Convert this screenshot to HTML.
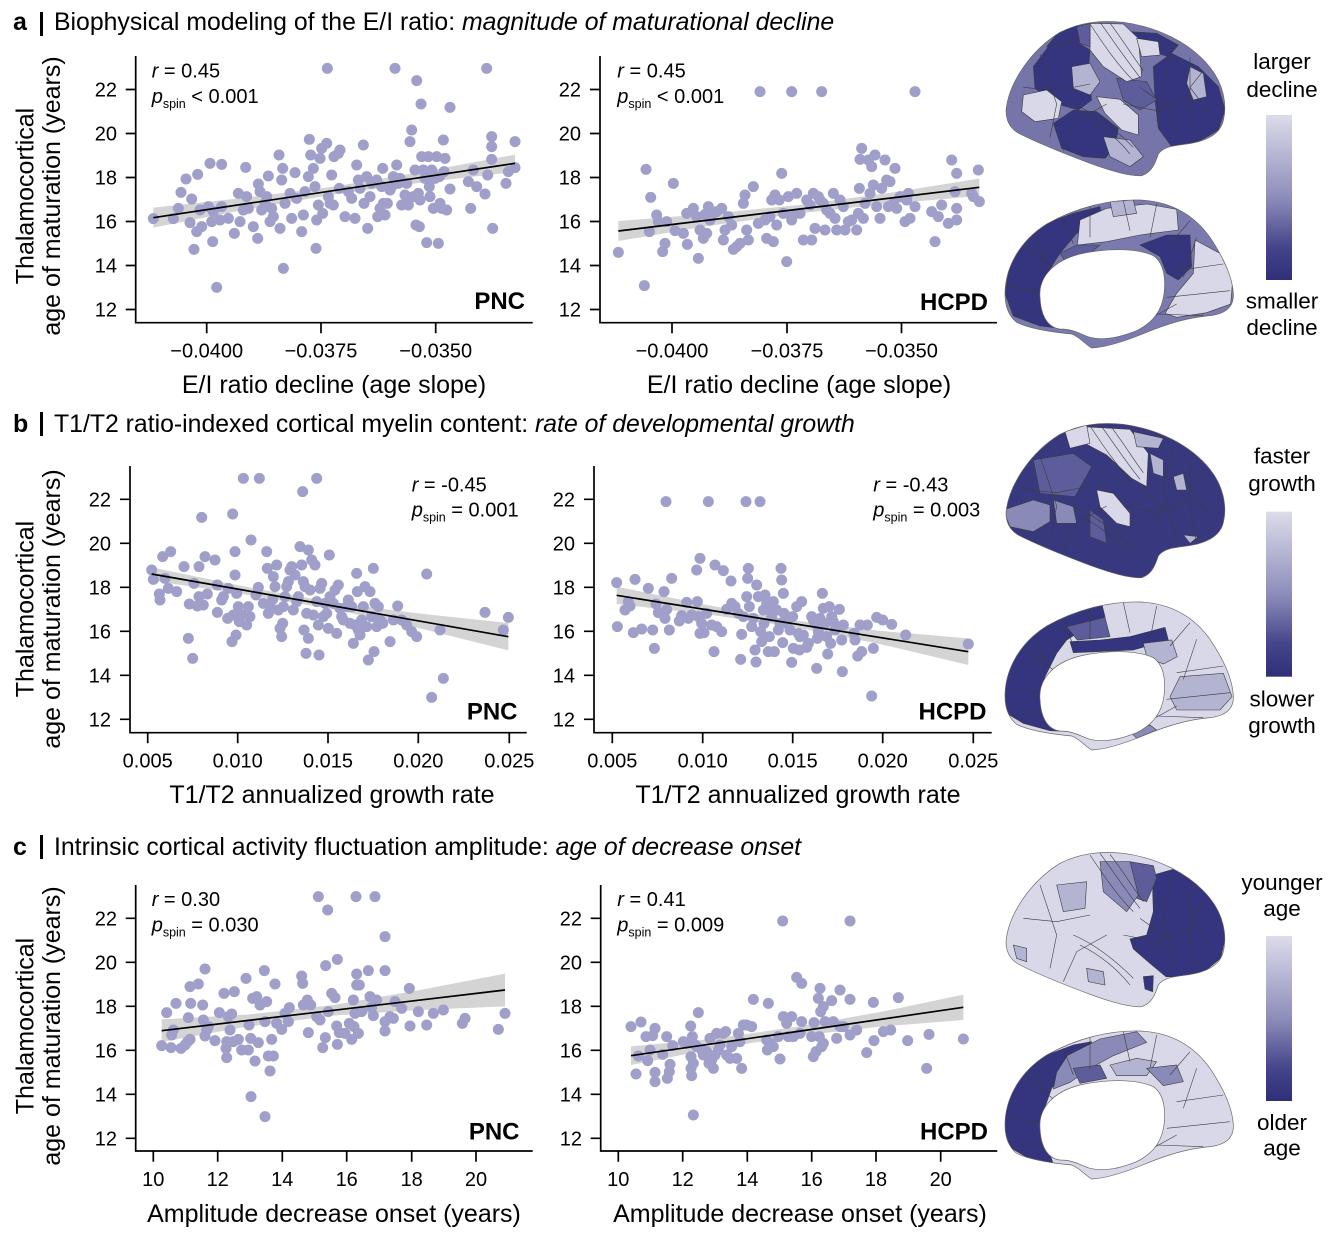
<!DOCTYPE html>
<html>
<head>
<meta charset="utf-8">
<style>
html,body{margin:0;padding:0;background:#fff;}
svg{display:block;}
text{font-family:"Liberation Sans",Arial,sans-serif;fill:#000;}
</style>
</head>
<body>
<svg width="1335" height="1250" viewBox="0 0 1335 1250" xmlns="http://www.w3.org/2000/svg">
<defs>
<linearGradient id="cb" x1="0" y1="0" x2="0" y2="1">
<stop offset="0" stop-color="#dcdcea"/>
<stop offset="0.5" stop-color="#8d8dbb"/>
<stop offset="0.8" stop-color="#45458a"/>
<stop offset="1" stop-color="#2f2f7a"/>
</linearGradient>
<path id="lat" d="M48,320 C55,240 120,140 210,85 C270,55 330,48 400,55 C500,68 600,115 660,190 C700,240 712,300 700,350 C690,390 650,412 590,420 C550,425 520,428 505,450 C495,480 485,505 455,515 C420,518 360,500 300,478 C220,448 140,415 90,390 C60,375 48,350 48,320 Z"/>
<path id="med" d="M45,870 C45,790 90,710 170,660 C260,610 360,585 450,588 C540,592 610,630 660,700 C700,760 728,820 730,870 C732,910 705,932 650,936 C590,942 530,960 470,985 C410,1010 350,1030 305,1032 C285,1020 270,1000 245,990 C190,985 120,975 80,955 C55,935 45,905 45,870 Z M150,880 C145,820 190,770 270,750 C350,732 440,732 490,755 C520,775 528,820 522,870 C515,920 490,955 440,980 C390,1000 340,1010 300,1000 C270,990 250,975 210,975 C170,970 152,930 150,880 Z"/>
<clipPath id="clat"><path d="M48,320 C55,240 120,140 210,85 C270,55 330,48 400,55 C500,68 600,115 660,190 C700,240 712,300 700,350 C690,390 650,412 590,420 C550,425 520,428 505,450 C495,480 485,505 455,515 C420,518 360,500 300,478 C220,448 140,415 90,390 C60,375 48,350 48,320 Z"/></clipPath>
<clipPath id="cmed"><path clip-rule="evenodd" d="M45,870 C45,790 90,710 170,660 C260,610 360,585 450,588 C540,592 610,630 660,700 C700,760 728,820 730,870 C732,910 705,932 650,936 C590,942 530,960 470,985 C410,1010 350,1030 305,1032 C285,1020 270,1000 245,990 C190,985 120,975 80,955 C55,935 45,905 45,870 Z M150,880 C145,820 190,770 270,750 C350,732 440,732 490,755 C520,775 528,820 522,870 C515,920 490,955 440,980 C390,1000 340,1010 300,1000 C270,990 250,975 210,975 C170,970 152,930 150,880 Z"/></clipPath>
<g id="latlines" fill="none" stroke="#3c3c3c" stroke-width="1.8">
<path d="M300,60 C340,120 380,180 430,230 M330,55 C370,110 410,170 450,220 M360,58 C400,110 430,160 460,200 M250,300 C320,330 380,380 430,430 M270,330 C330,360 380,400 420,450 M100,250 L200,260 L300,240 M150,150 L200,300 L180,400 M550,120 L520,250 L560,400 M600,160 L600,300 L620,410 M400,300 L500,320 L600,280 M220,440 L260,350 L350,300 M450,250 L520,300 L500,350 M640,200 L600,250 L660,330"/>
</g>
<g id="medlines" fill="none" stroke="#3c3c3c" stroke-width="1.8">
<path d="M100,720 L200,800 M60,850 L150,860 M80,930 L160,920 M300,600 L300,700 M400,590 L420,680 M500,600 L480,700 M600,650 L540,720 M560,800 L700,780 M530,880 L720,860 M500,930 L640,935 M380,1000 L560,900 M130,690 L170,780 M220,640 L250,720 M620,700 L580,820"/>
</g>
</defs>

<!-- ================= TITLES ================= -->
<text x="13" y="30" font-size="25" font-weight="bold">a</text>
<rect x="40" y="12" width="3" height="24" fill="#000"/>
<text x="54" y="30" font-size="24.8">Biophysical modeling of the E/I ratio: <tspan font-style="italic">magnitude of maturational decline</tspan></text>

<text x="13" y="432" font-size="25" font-weight="bold">b</text>
<rect x="40" y="412" width="3" height="24" fill="#000"/>
<text x="54" y="432" font-size="24.8">T1/T2 ratio-indexed cortical myelin content: <tspan font-style="italic">rate of developmental growth</tspan></text>

<text x="13" y="855" font-size="25" font-weight="bold">c</text>
<rect x="40" y="835" width="3" height="24" fill="#000"/>
<text x="54" y="855" font-size="24.8">Intrinsic cortical activity fluctuation amplitude: <tspan font-style="italic">age of decrease onset</tspan></text>

<!-- ================= Y AXIS LABELS ================= -->
<g font-size="25" text-anchor="middle">
<text transform="translate(33.5,196) rotate(-90)">Thalamocortical</text>
<text transform="translate(60,196) rotate(-90)">age of maturation (years)</text>
<text transform="translate(33.5,609) rotate(-90)">Thalamocortical</text>
<text transform="translate(60,609) rotate(-90)">age of maturation (years)</text>
<text transform="translate(33.5,1026) rotate(-90)">Thalamocortical</text>
<text transform="translate(60,1026) rotate(-90)">age of maturation (years)</text>
</g>

<!-- ================= PANEL A LEFT ================= -->
<g transform="translate(100,40) scale(0.33333)">
<polygon fill="#d4d4d4" points="160,503 430,474 700,440 970,395 1245,344 1245,396 970,427 700,464 430,510 160,563"/>
<path fill="none" stroke="#9f9fc9" stroke-width="33" stroke-linecap="round" d="M160 536h.1M220 536h.1M235 505h.1M243 457h.1M258 417h.1M275 477h.1M293 403h.1M270 548h.1M290 575h.1M282 628h.1M305 560h.1M300 510h.1M325 500h.1M340 515h.1M330 370h.1M365 373h.1M338 605h.1M350 742h.1M335 545h.1M360 540h.1M385 535h.1M365 500h.1M403 580h.1M415 460h.1M420 545h.1M430 510h.1M440 470h.1M437 382h.1M445 505h.1M460 560h.1M473 595h.1M475 432h.1M480 455h.1M485 510h.1M495 490h.1M500 470h.1M505 408h.1M510 545h.1M520 530h.1M515 505h.1M537 345h.1M540 565h.1M545 420h.1M548 385h.1M555 490h.1M550 685h.1M570 460h.1M575 535h.1M585 398h.1M590 475h.1M605 575h.1M610 525h.1M615 455h.1M625 410h.1M628 298h.1M632 345h.1M640 385h.1M645 440h.1M648 625h.1M650 540h.1M655 495h.1M660 355h.1M665 325h.1M668 520h.1M680 310h.1M682 85h.1M685 470h.1M690 490h.1M695 405h.1M700 495h.1M702 350h.1M715 340h.1M720 330h.1M718 445h.1M735 530h.1M745 455h.1M755 475h.1M765 535h.1M770 375h.1M775 420h.1M780 445h.1M790 315h.1M792 490h.1M800 410h.1M803 565h.1M810 470h.1M815 430h.1M830 420h.1M833 530h.1M840 505h.1M848 385h.1M845 440h.1M850 490h.1M855 525h.1M862 490h.1M870 450h.1M875 440h.1M880 410h.1M885 85h.1M890 375h.1M895 430h.1M900 415h.1M905 495h.1M915 465h.1M920 430h.1M925 495h.1M930 305h.1M935 270h.1M940 470h.1M945 390h.1M948 555h.1M950 122h.1M955 460h.1M958 560h.1M960 480h.1M963 192h.1M965 350h.1M970 390h.1M975 415h.1M980 608h.1M985 350h.1M988 440h.1M990 470h.1M995 390h.1M1000 505h.1M1005 415h.1M1010 350h.1M1015 610h.1M1018 410h.1M1020 490h.1M1025 505h.1M1030 300h.1M1032 395h.1M1035 355h.1M1040 510h.1M1050 202h.1M1050 447h.1M1105 425h.1M1112 505h.1M1120 390h.1M1130 440h.1M1155 462h.1M1160 85h.1M1163 405h.1M1175 290h.1M1175 320h.1M1175 358h.1M1178 565h.1M1218 430h.1M1225 395h.1M1245 305h.1M1245 383h.1"/>
<line x1="160" y1="533" x2="1245" y2="370" stroke="#000" stroke-width="5"/>
</g>
<path d="M135.7 56V322.7H532.7" fill="none" stroke="#000" stroke-width="1.7"/>
<path d="M125.7 309.5H135.7M125.7 265.5H135.7M125.7 221.5H135.7M125.7 177.5H135.7M125.7 133.5H135.7M125.7 89.5H135.7M206.7 322.7V333.3M321 322.7V333.3M435.7 322.7V333.3" stroke="#000" stroke-width="1.7"/>
<g font-size="20" text-anchor="end">
<text x="117" y="316.5">12</text><text x="117" y="272.5">14</text><text x="117" y="228.5">16</text><text x="117" y="184.5">18</text><text x="117" y="140.5">20</text><text x="117" y="96.5">22</text>
</g>
<g font-size="20" text-anchor="middle">
<text x="206.7" y="357.5">−0.0400</text><text x="321" y="357.5">−0.0375</text><text x="435.7" y="357.5">−0.0350</text>
</g>
<text x="334" y="393" font-size="25" text-anchor="middle">E/I ratio decline (age slope)</text>
<text x="151.7" y="77.7" font-size="20"><tspan font-style="italic">r</tspan> = 0.45</text>
<text x="151.7" y="103" font-size="20"><tspan font-style="italic">p</tspan><tspan font-size="12.5" dy="5">spin</tspan><tspan dy="-5"> &lt; 0.001</tspan></text>
<text x="525" y="309" font-size="24" font-weight="bold" text-anchor="end">PNC</text>

<!-- ================= PANEL A RIGHT ================= -->
<g transform="translate(540,0) scale(0.33333)">
<polygon fill="#d4d4d4" points="235,663 505,642 776,615 1047,579 1318,536 1318,588 1047,611 776,640 505,678 235,723"/>
<path fill="none" stroke="#9f9fc9" stroke-width="33" stroke-linecap="round" d="M235 757h.1M313 857h.1M318 508h.1M328 695h.1M332 592h.1M350 645h.1M355 665h.1M368 755h.1M375 730h.1M380 665h.1M400 550h.1M405 692h.1M430 700h.1M440 640h.1M442 733h.1M460 625h.1M470 650h.1M475 775h.1M480 690h.1M490 715h.1M495 643h.1M500 700h.1M505 620h.1M510 660h.1M520 640h.1M530 635h.1M545 625h.1M550 720h.1M555 690h.1M565 650h.1M575 675h.1M580 748h.1M590 740h.1M600 730h.1M610 610h.1M615 585h.1M620 690h.1M625 720h.1M640 560h.1M655 670h.1M660 275h.1M675 660h.1M680 715h.1M690 650h.1M695 600h.1M700 725h.1M705 585h.1M710 675h.1M718 600h.1M725 520h.1M730 640h.1M740 785h.1M745 590h.1M755 275h.1M755 660h.1M760 645h.1M770 580h.1M780 640h.1M790 720h.1M800 600h.1M810 615h.1M815 720h.1M820 580h.1M825 685h.1M835 590h.1M840 600h.1M845 275h.1M850 610h.1M855 690h.1M860 630h.1M870 640h.1M880 580h.1M885 655h.1M890 690h.1M900 600h.1M910 620h.1M915 690h.1M925 665h.1M935 660h.1M950 690h.1M955 640h.1M958 565h.1M960 478h.1M965 445h.1M970 655h.1M975 610h.1M985 480h.1M990 580h.1M995 500h.1M1000 555h.1M1005 465h.1M1010 620h.1M1020 655h.1M1025 565h.1M1035 480h.1M1040 540h.1M1045 620h.1M1050 545h.1M1060 610h.1M1065 505h.1M1070 625h.1M1080 590h.1M1095 665h.1M1100 600h.1M1105 580h.1M1110 655h.1M1125 275h.1M1125 620h.1M1175 635h.1M1185 725h.1M1195 650h.1M1205 615h.1M1225 670h.1M1235 480h.1M1245 575h.1M1250 520h.1M1250 625h.1M1250 660h.1M1295 580h.1M1300 590h.1M1315 510h.1M1318 605h.1"/>
<line x1="235" y1="693" x2="1318" y2="562" stroke="#000" stroke-width="5"/>
</g>
<path d="M600 56V322.7H997" fill="none" stroke="#000" stroke-width="1.7"/>
<path d="M590 309.5H600M590 265.5H600M590 221.5H600M590 177.5H600M590 133.5H600M590 89.5H600M672 322.7V333.3M787 322.7V333.3M901.5 322.7V333.3" stroke="#000" stroke-width="1.7"/>
<g font-size="20" text-anchor="end">
<text x="581" y="316.5">12</text><text x="581" y="272.5">14</text><text x="581" y="228.5">16</text><text x="581" y="184.5">18</text><text x="581" y="140.5">20</text><text x="581" y="96.5">22</text>
</g>
<g font-size="20" text-anchor="middle">
<text x="672" y="357.5">−0.0400</text><text x="787" y="357.5">−0.0375</text><text x="901.5" y="357.5">−0.0350</text>
</g>
<text x="799" y="393" font-size="25" text-anchor="middle">E/I ratio decline (age slope)</text>
<text x="617.3" y="77.7" font-size="20"><tspan font-style="italic">r</tspan> = 0.45</text>
<text x="617.3" y="103" font-size="20"><tspan font-style="italic">p</tspan><tspan font-size="12.5" dy="5">spin</tspan><tspan dy="-5"> &lt; 0.001</tspan></text>
<text x="988" y="310" font-size="24" font-weight="bold" text-anchor="end">HCPD</text>

<!-- ================= PANEL B LEFT ================= -->
<g transform="translate(100,450) scale(0.33333)">
<polygon fill="#d4d4d4" points="155,352 420,407 690,456 960,491 1225,519 1225,601 960,535 690,476 420,431 155,392"/>
<path fill="none" stroke="#9f9fc9" stroke-width="33" stroke-linecap="round" d="M155 360h.1M160 388h.1M178 432h.1M180 450h.1M188 320h.1M195 385h.1M205 415h.1M212 305h.1M230 425h.1M252 350h.1M265 565h.1M268 462h.1M278 625h.1M282 400h.1M292 468h.1M297 350h.1M297 440h.1M305 202h.1M310 465h.1M315 320h.1M322 432h.1M345 330h.1M352 405h.1M352 487h.1M365 450h.1M370 440h.1M383 505h.1M385 415h.1M398 192h.1M396 575h.1M400 495h.1M405 305h.1M405 375h.1M408 555h.1M410 430h.1M415 470h.1M418 515h.1M425 495h.1M430 85h.1M440 525h.1M445 470h.1M450 500h.1M453 270h.1M468 435h.1M475 412h.1M478 85h.1M490 460h.1M500 305h.1M502 355h.1M505 490h.1M510 465h.1M518 448h.1M520 380h.1M525 410h.1M530 345h.1M535 480h.1M540 535h.1M545 560h.1M548 520h.1M550 470h.1M555 440h.1M560 410h.1M565 395h.1M570 360h.1M575 350h.1M580 480h.1M585 375h.1M590 455h.1M595 440h.1M600 290h.1M605 345h.1M608 125h.1M610 395h.1M612 540h.1M615 410h.1M618 610h.1M620 490h.1M625 300h.1M625 565h.1M630 420h.1M635 330h.1M640 495h.1M645 345h.1M650 85h.1M650 455h.1M655 525h.1M657 615h.1M660 415h.1M665 400h.1M670 500h.1M675 460h.1M680 490h.1M685 535h.1M688 315h.1M690 440h.1M700 460h.1M705 420h.1M710 550h.1M715 405h.1M720 475h.1M725 500h.1M730 510h.1M740 470h.1M745 450h.1M750 520h.1M755 470h.1M760 580h.1M765 525h.1M770 370h.1M772 425h.1M775 540h.1M780 555h.1M785 510h.1M790 470h.1M795 410h.1M800 530h.1M805 630h.1M810 425h.1M815 500h.1M820 355h.1M822 605h.1M825 460h.1M830 530h.1M835 470h.1M840 510h.1M848 520h.1M870 575h.1M880 510h.1M893 468h.1M905 510h.1M920 525h.1M935 545h.1M950 560h.1M980 372h.1M995 742h.1M1020 540h.1M1030 685h.1M1155 487h.1M1210 540h.1M1225 502h.1"/>
<line x1="155" y1="372" x2="1225" y2="560" stroke="#000" stroke-width="5"/>
</g>
<path d="M130 466V732.7H526.7" fill="none" stroke="#000" stroke-width="1.7"/>
<path d="M120 719.3H130M120 675.3H130M120 631.3H130M120 587.3H130M120 543.3H130M120 499.3H130M147.7 732.7V743.3M237.7 732.7V743.3M328 732.7V743.3M418.3 732.7V743.3M509.3 732.7V743.3" stroke="#000" stroke-width="1.7"/>
<g font-size="20" text-anchor="end">
<text x="111" y="726.3">12</text><text x="111" y="682.3">14</text><text x="111" y="638.3">16</text><text x="111" y="594.3">18</text><text x="111" y="550.3">20</text><text x="111" y="506.3">22</text>
</g>
<g font-size="20" text-anchor="middle">
<text x="147.7" y="767.7">0.005</text><text x="237.7" y="767.7">0.010</text><text x="328" y="767.7">0.015</text><text x="418.3" y="767.7">0.020</text><text x="509.3" y="767.7">0.025</text>
</g>
<text x="332" y="803" font-size="25" text-anchor="middle">T1/T2 annualized growth rate</text>
<text x="411.7" y="491.7" font-size="20"><tspan font-style="italic">r</tspan> = -0.45</text>
<text x="411.7" y="516.7" font-size="20"><tspan font-style="italic">p</tspan><tspan font-size="12.5" dy="5">spin</tspan><tspan dy="-5"> = 0.001</tspan></text>
<text x="517.5" y="719.3" font-size="24" font-weight="bold" text-anchor="end">PNC</text>

<!-- ================= PANEL B RIGHT ================= -->
<g transform="translate(560,450) scale(0.33333)">
<polygon fill="#d4d4d4" points="170,410 435,464 700,511 965,543 1225,565 1225,645 965,583 700,531 435,492 170,462"/>
<path fill="none" stroke="#9f9fc9" stroke-width="33" stroke-linecap="round" d="M170 398h.1M172 530h.1M195 480h.1M205 455h.1M210 468h.1M220 548h.1M225 388h.1M245 537h.1M265 415h.1M278 540h.1M283 595h.1M288 462h.1M295 488h.1M312 425h.1M315 505h.1M318 155h.1M320 478h.1M328 540h.1M335 385h.1M358 513h.1M365 497h.1M380 457h.1M385 505h.1M395 495h.1M410 360h.1M412 455h.1M415 500h.1M420 325h.1M420 550h.1M425 520h.1M432 548h.1M440 490h.1M445 155h.1M455 525h.1M462 605h.1M465 345h.1M470 530h.1M485 545h.1M490 362h.1M500 478h.1M513 393h.1M515 460h.1M525 470h.1M535 490h.1M542 628h.1M545 553h.1M550 500h.1M558 155h.1M560 440h.1M563 385h.1M565 355h.1M568 470h.1M575 530h.1M580 505h.1M585 600h.1M588 636h.1M590 405h.1M595 440h.1M600 155h.1M602 545h.1M605 575h.1M610 480h.1M612 520h.1M615 435h.1M620 460h.1M625 605h.1M628 560h.1M632 470h.1M635 500h.1M640 455h.1M643 605h.1M650 480h.1M655 540h.1M660 520h.1M663 355h.1M665 390h.1M668 578h.1M670 430h.1M672 490h.1M680 520h.1M690 540h.1M695 637h.1M698 500h.1M700 595h.1M710 470h.1M715 550h.1M718 600h.1M720 560h.1M725 455h.1M730 555h.1M740 592h.1M745 580h.1M755 500h.1M760 510h.1M765 520h.1M770 655h.1M772 565h.1M775 545h.1M780 505h.1M787 430h.1M790 475h.1M795 520h.1M800 560h.1M803 612h.1M808 470h.1M812 580h.1M815 500h.1M820 515h.1M825 540h.1M838 478h.1M845 570h.1M847 665h.1M850 525h.1M882 550h.1M885 570h.1M893 618h.1M900 525h.1M905 605h.1M922 525h.1M935 738h.1M940 595h.1M950 502h.1M968 510h.1M995 523h.1M1037 555h.1M1225 582h.1"/>
<line x1="170" y1="436" x2="1225" y2="605" stroke="#000" stroke-width="5"/>
</g>
<path d="M594 466V732.7H991.7" fill="none" stroke="#000" stroke-width="1.7"/>
<path d="M584 719.3H594M584 675.3H594M584 631.3H594M584 587.3H594M584 543.3H594M584 499.3H594M612.3 732.7V743.3M702.7 732.7V743.3M792.7 732.7V743.3M882.7 732.7V743.3M973.3 732.7V743.3" stroke="#000" stroke-width="1.7"/>
<g font-size="20" text-anchor="end">
<text x="575" y="726.3">12</text><text x="575" y="682.3">14</text><text x="575" y="638.3">16</text><text x="575" y="594.3">18</text><text x="575" y="550.3">20</text><text x="575" y="506.3">22</text>
</g>
<g font-size="20" text-anchor="middle">
<text x="612.3" y="767.7">0.005</text><text x="702.7" y="767.7">0.010</text><text x="792.7" y="767.7">0.015</text><text x="882.7" y="767.7">0.020</text><text x="973.3" y="767.7">0.025</text>
</g>
<text x="798" y="803" font-size="25" text-anchor="middle">T1/T2 annualized growth rate</text>
<text x="873.3" y="491.7" font-size="20"><tspan font-style="italic">r</tspan> = -0.43</text>
<text x="873.3" y="516.7" font-size="20"><tspan font-style="italic">p</tspan><tspan font-size="12.5" dy="5">spin</tspan><tspan dy="-5"> = 0.003</tspan></text>
<text x="986.5" y="719.3" font-size="24" font-weight="bold" text-anchor="end">HCPD</text>

<!-- ================= PANEL C LEFT ================= -->
<g transform="translate(100,870) scale(0.33333)">
<polygon fill="#d4d4d4" points="185,448 440,434 700,405 960,360 1215,311 1215,409 960,420 700,437 440,470 185,516"/>
<path fill="none" stroke="#9f9fc9" stroke-width="33" stroke-linecap="round" d="M185 527h.1M200 428h.1M213 533h.1M215 495h.1M220 480h.1M228 400h.1M243 535h.1M255 525h.1M263 515h.1M265 443h.1M270 508h.1M270 350h.1M272 400h.1M295 342h.1M308 405h.1M310 450h.1M315 297h.1M315 498h.1M320 480h.1M325 470h.1M345 512h.1M358 428h.1M372 370h.1M378 535h.1M380 515h.1M380 563h.1M385 440h.1M390 480h.1M395 432h.1M400 515h.1M403 365h.1M415 508h.1M425 540h.1M438 325h.1M445 540h.1M447 465h.1M452 505h.1M453 680h.1M458 385h.1M465 573h.1M470 380h.1M475 518h.1M480 405h.1M493 302h.1M495 455h.1M495 740h.1M500 395h.1M505 558h.1M510 603h.1M515 508h.1M520 558h.1M525 342h.1M530 460h.1M545 478h.1M555 430h.1M565 455h.1M568 413h.1M605 318h.1M608 340h.1M610 405h.1M622 390h.1M625 488h.1M632 405h.1M650 440h.1M655 80h.1M660 450h.1M668 533h.1M676 503h.1M677 287h.1M683 120h.1M685 425h.1M695 370h.1M705 383h.1M710 468h.1M712 268h.1M712 523h.1M718 488h.1M735 490h.1M748 460h.1M755 508h.1M760 390h.1M762 470h.1M765 430h.1M768 80h.1M770 312h.1M770 345h.1M775 490h.1M778 345h.1M785 425h.1M805 302h.1M810 380h.1M815 412h.1M820 437h.1M825 80h.1M830 390h.1M855 200h.1M855 302h.1M855 455h.1M855 483h.1M870 440h.1M880 445h.1M885 395h.1M905 415h.1M928 355h.1M930 468h.1M955 425h.1M980 465h.1M1000 430h.1M1030 420h.1M1087 460h.1M1095 445h.1M1195 478h.1M1215 430h.1"/>
<line x1="185" y1="482" x2="1215" y2="360" stroke="#000" stroke-width="5"/>
</g>
<path d="M135.7 885V1151H532.7" fill="none" stroke="#000" stroke-width="1.7"/>
<path d="M125.7 1138.3H135.7M125.7 1094.3H135.7M125.7 1050.3H135.7M125.7 1006.3H135.7M125.7 962.3H135.7M125.7 918.3H135.7M153.3 1151V1161.7M217.7 1151V1161.7M282.3 1151V1161.7M346.7 1151V1161.7M411.7 1151V1161.7M476 1151V1161.7" stroke="#000" stroke-width="1.7"/>
<g font-size="20" text-anchor="end">
<text x="117" y="1145.3">12</text><text x="117" y="1101.3">14</text><text x="117" y="1057.3">16</text><text x="117" y="1013.3">18</text><text x="117" y="969.3">20</text><text x="117" y="925.3">22</text>
</g>
<g font-size="20" text-anchor="middle">
<text x="153.3" y="1186">10</text><text x="217.7" y="1186">12</text><text x="282.3" y="1186">14</text><text x="346.7" y="1186">16</text><text x="411.7" y="1186">18</text><text x="476" y="1186">20</text>
</g>
<text x="334" y="1222" font-size="25" text-anchor="middle">Amplitude decrease onset (years)</text>
<text x="151.7" y="906" font-size="20"><tspan font-style="italic">r</tspan> = 0.30</text>
<text x="151.7" y="931.5" font-size="20"><tspan font-style="italic">p</tspan><tspan font-size="12.5" dy="5">spin</tspan><tspan dy="-5"> = 0.030</tspan></text>
<text x="519.5" y="1139.3" font-size="24" font-weight="bold" text-anchor="end">PNC</text>

<!-- ================= PANEL C RIGHT ================= -->
<g transform="translate(560,870) scale(0.33333)">
<polygon fill="#d4d4d4" points="213,529 462,506 712,470 961,426 1210,374 1210,450 961,470 712,498 462,536 213,585"/>
<path fill="none" stroke="#9f9fc9" stroke-width="33" stroke-linecap="round" d="M213 470h.1M228 612h.1M235 558h.1M243 456h.1M258 500h.1M263 572h.1M270 540h.1M278 497h.1M285 475h.1M285 607h.1M285 635h.1M308 553h.1M320 500h.1M322 625h.1M328 605h.1M330 583h.1M338 527h.1M370 515h.1M380 520h.1M392 468h.1M393 560h.1M393 595h.1M395 617h.1M397 500h.1M400 580h.1M400 735h.1M405 525h.1M410 530h.1M415 428h.1M425 540h.1M430 555h.1M440 545h.1M447 580h.1M450 505h.1M455 570h.1M460 595h.1M465 555h.1M470 490h.1M475 540h.1M480 525h.1M490 490h.1M497 485h.1M500 555h.1M510 565h.1M515 530h.1M530 565h.1M535 490h.1M540 515h.1M545 595h.1M550 465h.1M560 465h.1M575 470h.1M580 388h.1M620 510h.1M622 540h.1M625 400h.1M630 520h.1M640 530h.1M655 500h.1M660 567h.1M668 153h.1M670 440h.1M680 460h.1M685 500h.1M695 440h.1M700 500h.1M710 322h.1M720 490h.1M725 340h.1M725 455h.1M755 500h.1M760 560h.1M762 458h.1M768 545h.1M775 385h.1M778 500h.1M780 355h.1M782 425h.1M785 530h.1M790 520h.1M790 410h.1M795 455h.1M815 392h.1M820 455h.1M830 505h.1M840 360h.1M840 470h.1M850 470h.1M870 153h.1M870 388h.1M870 495h.1M890 480h.1M920 548h.1M940 397h.1M942 512h.1M970 485h.1M992 480h.1M1015 383h.1M1043 512h.1M1100 595h.1M1107 493h.1M1210 507h.1"/>
<line x1="213" y1="557" x2="1210" y2="412" stroke="#000" stroke-width="5"/>
</g>
<path d="M600.7 885V1151H997.3" fill="none" stroke="#000" stroke-width="1.7"/>
<path d="M590.7 1138.3H600.7M590.7 1094.3H600.7M590.7 1050.3H600.7M590.7 1006.3H600.7M590.7 962.3H600.7M590.7 918.3H600.7M618.3 1151V1161.7M682.7 1151V1161.7M747.3 1151V1161.7M811.7 1151V1161.7M876 1151V1161.7M940.7 1151V1161.7" stroke="#000" stroke-width="1.7"/>
<g font-size="20" text-anchor="end">
<text x="582" y="1145.3">12</text><text x="582" y="1101.3">14</text><text x="582" y="1057.3">16</text><text x="582" y="1013.3">18</text><text x="582" y="969.3">20</text><text x="582" y="925.3">22</text>
</g>
<g font-size="20" text-anchor="middle">
<text x="618.3" y="1186">10</text><text x="682.7" y="1186">12</text><text x="747.3" y="1186">14</text><text x="811.7" y="1186">16</text><text x="876" y="1186">18</text><text x="940.7" y="1186">20</text>
</g>
<text x="800" y="1222" font-size="25" text-anchor="middle">Amplitude decrease onset (years)</text>
<text x="617.3" y="906" font-size="20"><tspan font-style="italic">r</tspan> = 0.41</text>
<text x="617.3" y="931.5" font-size="20"><tspan font-style="italic">p</tspan><tspan font-size="12.5" dy="5">spin</tspan><tspan dy="-5"> = 0.009</tspan></text>
<text x="988" y="1139.3" font-size="24" font-weight="bold" text-anchor="end">HCPD</text>

<!-- ================= BRAINS A ================= -->
<g transform="translate(990,4) scale(0.33333)">
 <g clip-path="url(#clat)">
  <rect x="0" y="0" width="800" height="600" fill="#7575aa"/>
  <g transform="translate(0,-12)" stroke="#3c3c3c" stroke-width="1.8">
   <polygon fill="#34347f" points="130,200 175,140 260,125 300,150 295,215 305,300 265,330 195,310 135,265"/>
   <polygon fill="#34347f" points="170,140 215,85 265,75 275,125"/>
   <polygon fill="#34347f" points="190,370 250,330 320,335 385,385 375,440 345,475 280,470 215,445"/>
   <polygon fill="#34347f" points="490,200 545,160 625,200 685,260 705,330 685,390 625,425 545,440 505,385 495,300"/>
   <polygon fill="#34347f" points="420,95 500,100 565,135 535,170 470,150"/>
   <polygon fill="#5d5d9b" points="380,235 470,245 500,300 450,330 400,300"/>
   <polygon fill="#d8d8e8" points="300,70 400,72 445,115 455,230 410,245 340,200 300,150"/>
   <polygon fill="#d8d8e8" points="440,115 505,125 510,165 455,170"/>
   <polygon fill="#d8d8e8" points="100,285 170,270 215,305 205,355 135,365 95,335"/>
   <polygon fill="#d8d8e8" points="320,290 390,298 445,345 445,405 395,390 345,340"/>
   <polygon fill="#b3b3d2" points="245,200 300,190 330,245 300,285 250,265"/>
   <polygon fill="#b3b3d2" points="600,200 640,220 650,290 610,300 590,250"/>
   <polygon fill="#b3b3d2" points="340,410 420,420 460,470 420,500 360,470"/>
   <polygon fill="#5d5d9b" points="260,80 300,70 300,140 270,130"/>
  </g>
  <use href="#latlines"/>
 </g>
 <use href="#lat" fill="none" stroke="#666" stroke-width="2"/>
 <g clip-path="url(#cmed)">
  <rect x="0" y="500" width="800" height="600" fill="#7a7aae"/>
  <g transform="translate(0,-12)" stroke="#3c3c3c" stroke-width="1.8">
   <polygon fill="#34347f" points="45,880 60,790 100,720 170,670 250,640 330,620 335,660 260,700 210,760 165,830 152,900 200,965 255,990 150,978 70,948"/>
   <polygon fill="#d8d8e8" points="270,660 350,625 470,612 560,628 565,690 450,705 350,725 262,735"/>
   <polygon fill="#34347f" points="450,735 530,705 600,705 605,800 565,840 530,820 510,770"/>
   <polygon fill="#d8d8e8" points="615,720 690,760 728,840 722,912 650,938 560,952 525,940 560,880 610,820"/>
   <polygon fill="#5d5d9b" points="210,760 260,735 330,735 300,760 230,790"/>
   <polygon fill="#b3b3d2" points="360,605 430,600 440,640 370,650"/>
  </g>
  <use href="#medlines"/>
 </g>
 <use href="#med" fill="none" stroke="#666" stroke-width="2" fill-rule="evenodd"/>
</g>
<rect x="1266" y="115" width="26" height="165" fill="url(#cb)"/>
<g font-size="22.5" text-anchor="middle">
<text x="1282" y="69">larger</text><text x="1282" y="97">decline</text>
<text x="1282" y="308.5">smaller</text><text x="1282" y="335">decline</text>
</g>

<!-- ================= BRAINS B ================= -->
<g transform="translate(990,406) scale(0.33333)">
 <g clip-path="url(#clat)">
  <rect x="0" y="0" width="800" height="600" fill="#38387f"/>
  <g transform="translate(0,12)" stroke="#3c3c3c" stroke-width="1.8">
   <polygon fill="#d8d8e8" points="280,50 420,58 475,130 470,230 425,205 350,135 285,100"/>
   <polygon fill="#d8d8e8" points="225,65 290,45 300,100 240,115"/>
   <polygon fill="#b3b3d2" points="430,65 520,85 505,115 440,110"/>
   <polygon fill="#5d5d9b" points="130,150 250,130 305,170 255,260 150,250"/>
   <polygon fill="#d8d8e8" points="100,290 160,290 160,350 110,345"/>
   <polygon fill="#d8d8e8" points="320,240 370,250 420,310 420,350 380,340 330,290"/>
   <polygon fill="#b3b3d2" points="480,130 520,150 520,200 490,190"/>
   <polygon fill="#b3b3d2" points="550,200 580,190 590,240 560,240"/>
   <polygon fill="#8a8ab8" points="40,300 130,270 180,285 180,335 130,365 60,350"/>
   <polygon fill="#8a8ab8" points="190,270 250,290 260,340 200,340"/>
   <polygon fill="#5d5d9b" points="300,300 340,330 350,400 300,380"/>
   <polygon fill="#b3b3d2" points="580,375 625,380 600,400"/>
  </g>
  <use href="#latlines"/>
 </g>
 <use href="#lat" fill="none" stroke="#666" stroke-width="2"/>
 <g clip-path="url(#cmed)">
  <rect x="0" y="500" width="800" height="600" fill="#d8d8e8"/>
  <g transform="translate(0,12)" stroke="#3c3c3c" stroke-width="1.8">
   <polygon fill="#34347f" points="30,870 45,790 100,700 170,645 250,605 335,580 345,620 290,652 230,690 200,730 165,800 150,880 170,935 220,950 255,965 180,962 100,940 50,910"/>
   <polygon fill="#34347f" points="240,695 330,690 420,680 525,652 535,690 430,720 320,725 250,728"/>
   <polygon fill="#5d5d9b" points="230,650 345,622 360,680 262,690"/>
   <polygon fill="#b3b3d2" points="570,800 700,790 726,860 690,900 560,900 540,860"/>
   <polygon fill="#b3b3d2" points="460,700 545,690 562,740 520,762 470,740"/>
   <polygon fill="#8a8ab8" points="420,965 480,945 500,960 440,985"/>
  </g>
  <use href="#medlines"/>
 </g>
 <use href="#med" fill="none" stroke="#666" stroke-width="2" fill-rule="evenodd"/>
</g>
<rect x="1266" y="511.7" width="26" height="165" fill="url(#cb)"/>
<g font-size="22.5" text-anchor="middle">
<text x="1282" y="463.5">faster</text><text x="1282" y="491">growth</text>
<text x="1282" y="706.7">slower</text><text x="1282" y="733">growth</text>
</g>

<!-- ================= BRAINS C ================= -->
<g transform="translate(990,835) scale(0.33333)">
 <g clip-path="url(#clat)">
  <rect x="0" y="0" width="800" height="600" fill="#d8d8e8"/>
  <g stroke="#3c3c3c" stroke-width="1.8">
   <polygon fill="#34347f" points="490,120 560,100 640,148 690,220 708,300 692,370 642,410 560,425 528,425 480,385 430,342 420,312 470,300 490,230 488,170"/>
   <polygon fill="#5d5d9b" points="420,80 490,92 500,130 470,200 440,190"/>
   <polygon fill="#8a8ab8" points="330,80 420,80 445,180 410,230 340,170"/>
   <polygon fill="#b3b3d2" points="200,150 290,140 285,220 220,230"/>
   <polygon fill="#34347f" points="460,425 490,422 488,470 465,462"/>
   <polygon fill="#b3b3d2" points="290,400 340,410 345,450 295,440"/>
   <polygon fill="#b3b3d2" points="70,330 110,340 110,380 80,370"/>
  </g>
  <use href="#latlines"/>
 </g>
 <use href="#lat" fill="none" stroke="#666" stroke-width="2"/>
 <g clip-path="url(#cmed)">
  <rect x="0" y="500" width="800" height="600" fill="#d8d8e8"/>
  <g stroke="#3c3c3c" stroke-width="1.8">
   <polygon fill="#34347f" points="30,870 45,790 100,710 170,660 250,630 305,620 295,662 235,700 185,760 160,830 150,880 178,950 188,982 120,972 50,932"/>
   <polygon fill="#8a8ab8" points="232,662 330,612 440,590 470,622 370,662 300,700 240,742 190,762 200,712"/>
   <polygon fill="#b3b3d2" points="360,690 440,670 500,680 470,722 380,722"/>
   <polygon fill="#8a8ab8" points="470,700 560,690 580,740 520,752"/>
   <polygon fill="#5d5d9b" points="250,700 330,690 350,730 270,745"/>
  </g>
  <use href="#medlines"/>
 </g>
 <use href="#med" fill="none" stroke="#666" stroke-width="2" fill-rule="evenodd"/>
</g>
<rect x="1266" y="936" width="26" height="165" fill="url(#cb)"/>
<g font-size="22.5" text-anchor="middle">
<text x="1282" y="890">younger</text><text x="1282" y="916">age</text>
<text x="1282" y="1130">older</text><text x="1282" y="1155.7">age</text>
</g>
</svg>
</body>
</html>
